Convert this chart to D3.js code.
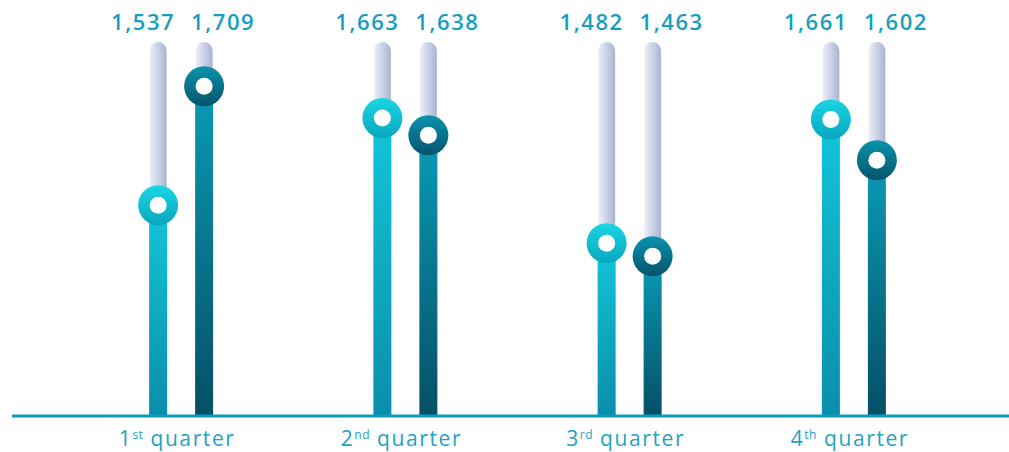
<!DOCTYPE html>
<html>
<head>
<meta charset="utf-8">
<script src="https://cdn.jsdelivr.net/npm/d3@7"></script>
<style>
  body { margin: 0; background: #fff; }
  svg { display: block; }
</style>
</head>
<body>
<div id="chart"></div>
<script>
const width = 1009;
const height = 452;

// data
const quarters = ['1', '2', '3', '4'];
const suffixes = ['st', 'nd', 'rd', 'th'];
const seriesA = [1537, 1663, 1482, 1661];
const seriesB = [1709, 1638, 1463, 1602];

const baseline = 416;
const trackTop = 42;
const barW = 18;

const svg = d3.select('#chart').append('svg')
    .attr('width', width)
    .attr('height', height);

const defs = svg.append('defs');

function linGrad(id, stops, horizontal) {
    const g = defs.append('linearGradient')
        .attr('id', id)
        .attr('x1', 0).attr('y1', 0)
        .attr('x2', horizontal ? 1 : 0)
        .attr('y2', horizontal ? 0 : 1);
    stops.forEach(s => g.append('stop').attr('offset', s[0]).attr('stop-color', s[1]));
}

linGrad('track', [[0, '#eef0f8'], [1, '#a9b3d3']], true);
linGrad('barA', [[0, '#12c6d9'], [1, '#0a8eab']]);
linGrad('barB', [[0, '#0a9bb6'], [1, '#054f66']]);
linGrad('dotA', [[0, '#1ad6e3'], [1, '#08a6bf']]);
linGrad('dotB', [[0, '#0a93ad'], [1, '#04546b']]);

// group positions
const x = d3.scaleBand()
    .domain(quarters)
    .range([69, 966])
    .paddingInner(0)
    .paddingOuter(0);

const y = d3.scaleLinear()
    .domain([1232, 1773])
    .range([baseline, trackTop]);

const series = [
    { key: 'A', values: seriesA, dx: -23, labelDx: -38 },
    { key: 'B', values: seriesB, dx: 23, labelDx: 42 }
];

series.forEach(s => {
    const g = svg.append('g');
    const cx = (d, i) => x(quarters[i]) + x.bandwidth() / 2 + s.dx;

    // background track
    g.selectAll('rect.track')
        .data(s.values)
        .enter()
        .append('rect')
        .attr('class', 'track')
        .attr('x', (d, i) => cx(d, i) - barW / 2 + 0.5)
        .attr('y', trackTop)
        .attr('width', barW - 1)
        .attr('height', baseline - trackTop + 10)
        .attr('rx', (barW - 1) / 2)
        .style('fill', 'url(#track)');

    // value bar
    g.selectAll('rect.bar')
        .data(s.values)
        .enter()
        .append('rect')
        .attr('class', 'bar')
        .attr('x', (d, i) => cx(d, i) - barW / 2)
        .attr('y', d => y(d))
        .attr('width', barW)
        .attr('height', d => baseline - y(d))
        .style('fill', 'url(#bar' + s.key + ')');

    // ring marker
    g.selectAll('circle.dot')
        .data(s.values)
        .enter()
        .append('circle')
        .attr('class', 'dot')
        .attr('cx', (d, i) => cx(d, i))
        .attr('cy', d => y(d))
        .attr('r', 20)
        .style('fill', 'url(#dot' + s.key + ')');

    g.selectAll('circle.hole')
        .data(s.values)
        .enter()
        .append('circle')
        .attr('class', 'hole')
        .attr('cx', (d, i) => cx(d, i))
        .attr('cy', d => y(d))
        .attr('r', 8.5)
        .style('fill', '#fff');

    // value labels at the top
    g.selectAll('text.val')
        .data(s.values)
        .enter()
        .append('text')
        .attr('class', 'val')
        .attr('x', (d, i) => x(quarters[i]) + x.bandwidth() / 2 + s.labelDx)
        .attr('y', 30)
        .attr('text-anchor', 'middle')
        .style('font-family', '"Open Sans", sans-serif')
        .style('font-weight', 600)
        .style('font-size', '22px')
        .style('letter-spacing', '1.6px')
        .style('fill', '#169fbd')
        .text(d => d3.format(',')(d));
});

// white cover under the baseline so tracks end clean
svg.append('rect')
    .attr('x', 0).attr('y', baseline)
    .attr('width', width).attr('height', height - baseline)
    .style('fill', '#fff');

// axis line
svg.append('line')
    .attr('x1', 12).attr('x2', width)
    .attr('y1', baseline).attr('y2', baseline)
    .style('stroke', '#0d9cb9')
    .style('stroke-width', 3);

// quarter labels
const labels = svg.append('g').selectAll('text.cat')
    .data(quarters)
    .enter()
    .append('text')
    .attr('class', 'cat')
    .attr('x', d => x(d) + x.bandwidth() / 2 - 4)
    .attr('y', 446)
    .attr('text-anchor', 'middle')
    .style('font-family', '"Open Sans", sans-serif')
    .style('font-weight', 400)
    .style('font-size', '21px')
    .style('letter-spacing', '1.6px')
    .style('fill', '#22a3c2');

labels.append('tspan').text(d => d);
labels.append('tspan')
    .attr('dy', -7)
    .style('font-size', '12px')
    .style('letter-spacing', '0.5px')
    .text((d, i) => suffixes[i]);
labels.append('tspan')
    .attr('dy', 7)
    .text(' quarter');
</script>
</body>
</html>
